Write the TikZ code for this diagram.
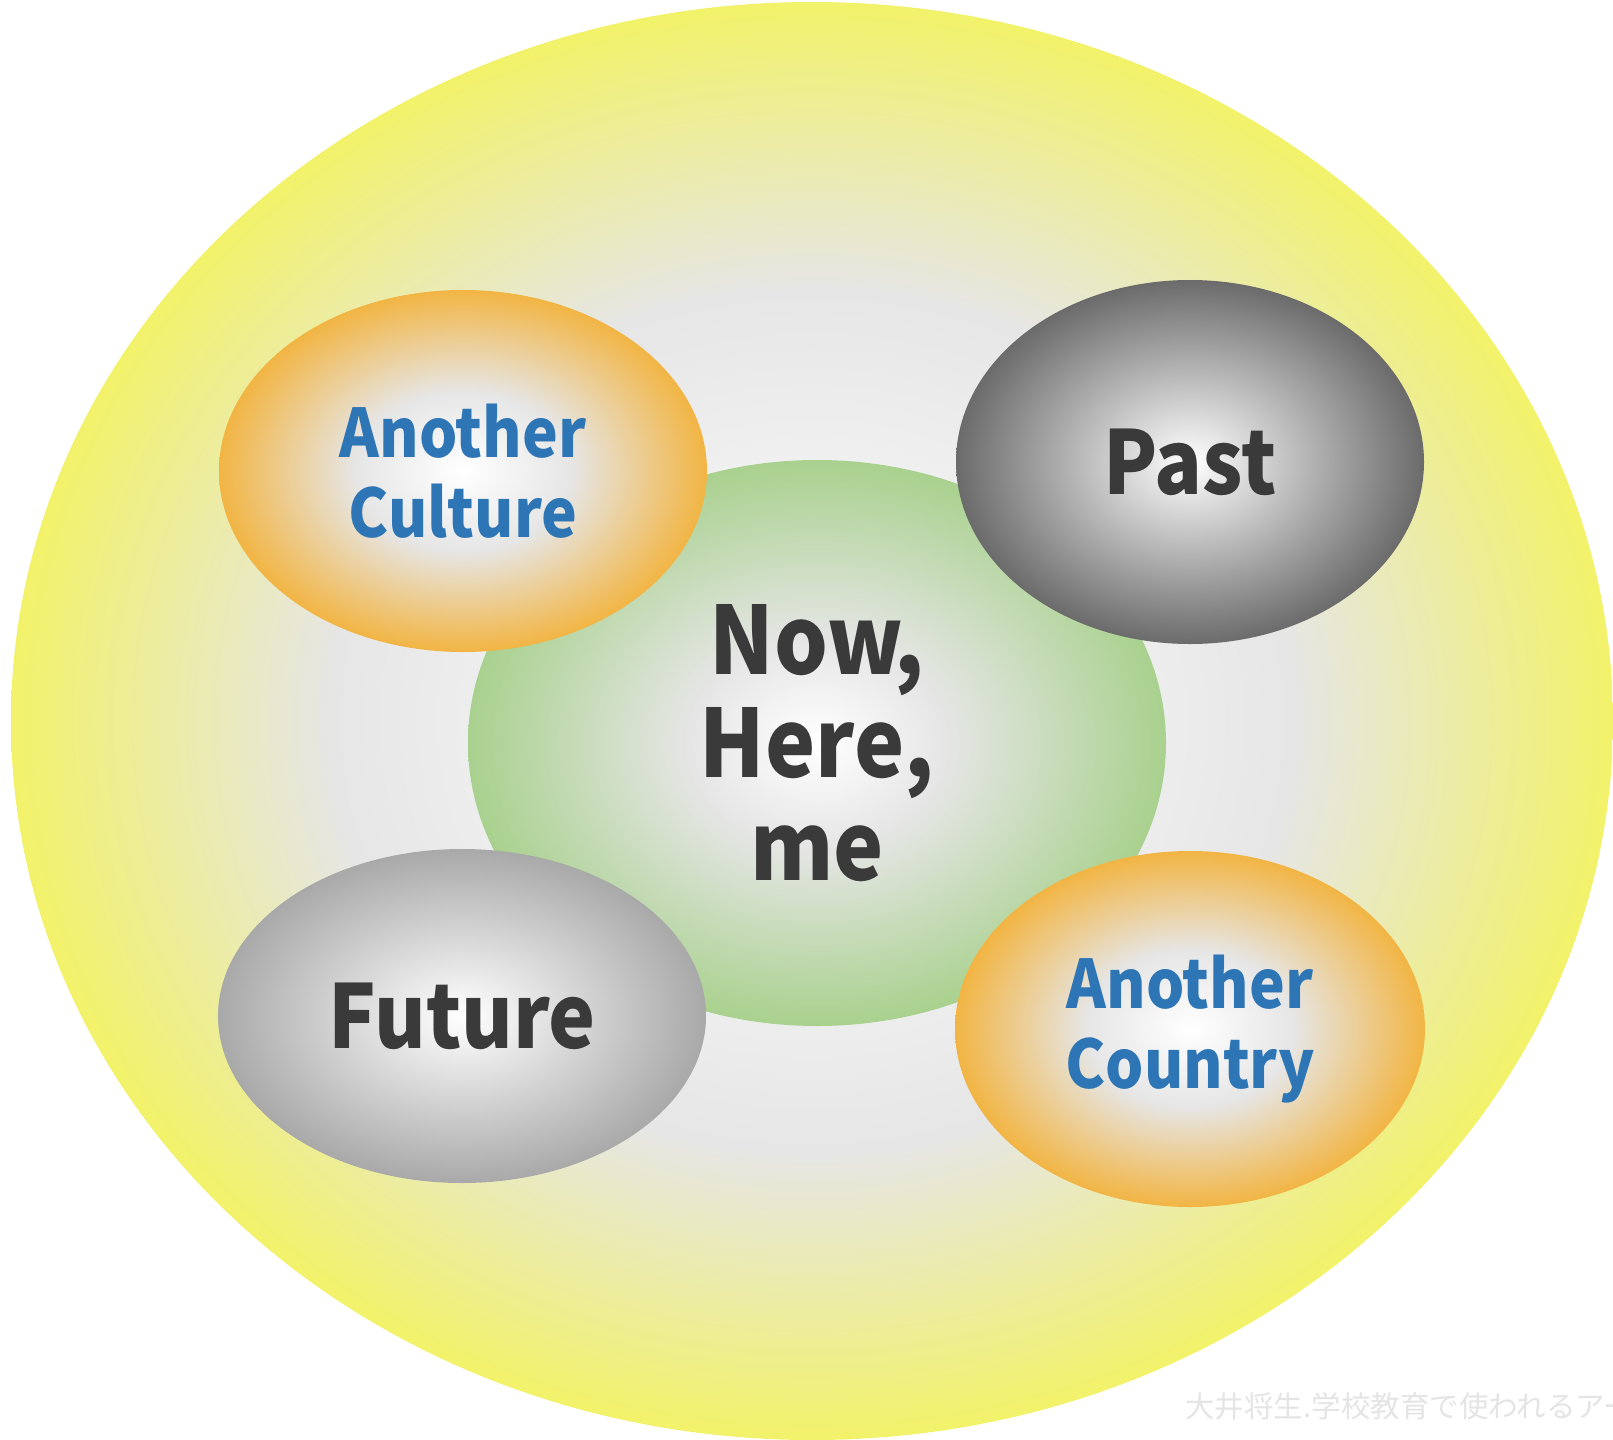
\documentclass[tikz,border=0pt]{standalone}
\usepackage{fontspec}
\usetikzlibrary{shapes.geometric}
\newfontfamily\labelfont{Noto Sans CJK JP}[FakeStretch=0.9]
\newfontfamily\creditfont{Noto Sans CJK JP}

\definecolor{txtgray}{HTML}{3A3A3A}
\definecolor{txtblue}{HTML}{2E75B6}
\definecolor{glowgray}{HTML}{E6E6E6}
\definecolor{ringyellow}{HTML}{F2F26A}
\definecolor{leafgreen}{HTML}{A9D18E}
\definecolor{warmorange}{HTML}{F2B544}
\definecolor{pastgray}{HTML}{6B6B6B}
\definecolor{futuregray}{HTML}{A9A9A9}
\definecolor{wmgray}{HTML}{E4E4E4}

\pgfdeclareradialshading{fieldglow}{\pgfpointorigin}{color(0bp)=(white); color(15bp)=(glowgray); color(25bp)=(ringyellow); color(50bp)=(ringyellow)}
\pgfdeclareradialshading{coreglow}{\pgfpointorigin}{color(0bp)=(white); color(9bp)=(glowgray); color(25bp)=(leafgreen); color(50bp)=(leafgreen)}
\pgfdeclareradialshading{orangeglow}{\pgfpointorigin}{color(0bp)=(white); color(11bp)=(glowgray); color(25bp)=(warmorange); color(50bp)=(warmorange)}
\pgfdeclareradialshading{pastglow}{\pgfpointorigin}{color(0bp)=(white); color(25bp)=(pastgray); color(50bp)=(pastgray)}
\pgfdeclareradialshading{futureglow}{\pgfpointorigin}{color(0bp)=(white); color(25bp)=(futuregray); color(50bp)=(futuregray)}

\tikzset{
    bubble/.style={ellipse, inner sep=0pt, align=center},
    coretext/.style={font=\labelfont\bfseries\fontsize{47}{51.5}\selectfont, text=txtgray},
    bigtext/.style={font=\labelfont\bfseries\fontsize{44}{48}\selectfont, text=txtgray},
    bluetext/.style={font=\labelfont\bfseries\fontsize{33.5}{40}\selectfont, text=txtblue}
}

\begin{document}
\begin{tikzpicture}[x=0.5pt, y=-0.5pt]
    \useasboundingbox (0,0) rectangle (1613,1440);
    \clip (0,0) rectangle (1613,1440);

    % Outer field
    \node[bubble, shading=fieldglow, minimum width=801pt, minimum height=719pt] (field) at (812,721) {};

    % Centre: now, here, me
    \node[bubble, coretext, shading=coreglow, minimum width=349pt, minimum height=283pt] (core) at (817,743) {Now,\\Here,\\me};

    % Four satellites
    \node[bubble, bluetext, shading=orangeglow, minimum width=244pt, minimum height=181pt] (culture) at (463,471) {Another\\Culture};
    \node[bubble, bigtext, shading=pastglow, minimum width=234pt, minimum height=182pt] (past) at (1190,462) {Past};
    \node[bubble, bigtext, shading=futureglow, minimum width=244pt, minimum height=167pt] (future) at (462,1016) {Future};
    \node[bubble, bluetext, shading=orangeglow, minimum width=235pt, minimum height=178pt] (country) at (1190,1029) {Another\\Country};

    % Credit line, cut by the edge
    \node[anchor=west, inner sep=0pt, text=wmgray, font=\creditfont\fontsize{14.75}{16}\selectfont] (credit) at (1185,1406) {大井将生.学校教育で使われるアー};
\end{tikzpicture}
\end{document}
